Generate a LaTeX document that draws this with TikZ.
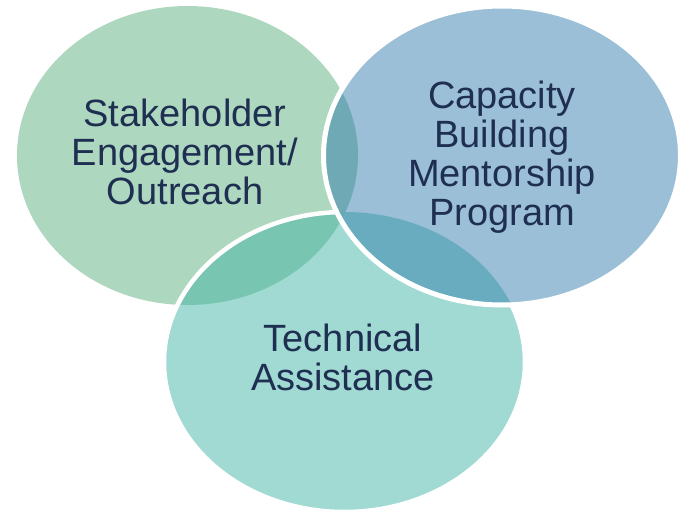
\documentclass[tikz,border=0pt]{standalone}
\usepackage{fontspec}
\setmainfont{Liberation Sans}
\definecolor{stakegreen}{HTML}{ADD8BF}
\definecolor{techteal}{HTML}{A0DAD3}
\definecolor{capblue}{HTML}{9BBFD7}
\definecolor{greenteal}{HTML}{78C6B1}
\definecolor{bluegreen}{HTML}{6EA9B5}
\definecolor{blueteal}{HTML}{69ACBF}
\definecolor{allthree}{HTML}{62AAB6}
\definecolor{navytext}{HTML}{1F2F52}
\tikzset{circtext/.style={align=center,text=navytext,font=\fontsize{38}{39}\selectfont}}

\begin{document}
\begin{tikzpicture}[x=1pt,y=-1pt]
    \useasboundingbox (0,0) rectangle (681,512);
    \def\greenpath{(187.5,155.5) ellipse [x radius=170.5, y radius=149.5]}
    \def\tealpath{(344.5,362) ellipse [x radius=180.5, y radius=150]}
    \def\bluepath{(502,155.5) ellipse [x radius=178.5, y radius=149.5]}

    % left and bottom circles
    \fill[stakegreen] \greenpath;
    \fill[techteal] \tealpath;
    \begin{scope}\clip \greenpath;
      \fill[greenteal] \tealpath;
    \end{scope}
    \draw[white,line width=4.5pt] \tealpath;

    % right circle on top
    \fill[capblue] \bluepath;
    \begin{scope}\clip \bluepath;
      \fill[bluegreen] \greenpath;
      \fill[blueteal] \tealpath;
      \clip \greenpath;
      \fill[allthree] \tealpath;
    \end{scope}
    \draw[white,line width=5pt] \bluepath;

    \node[circtext] (stakeholder) at (185,151.5) {Stakeholder\\Engagement/\\Outreach};
    \node[circtext] (capacity) at (502,157.5) {Capacity\\Building\\Mentorship\\Program};
    \node[circtext] (technical) at (343,357) {Technical\\Assistance};
\end{tikzpicture}
\end{document}
